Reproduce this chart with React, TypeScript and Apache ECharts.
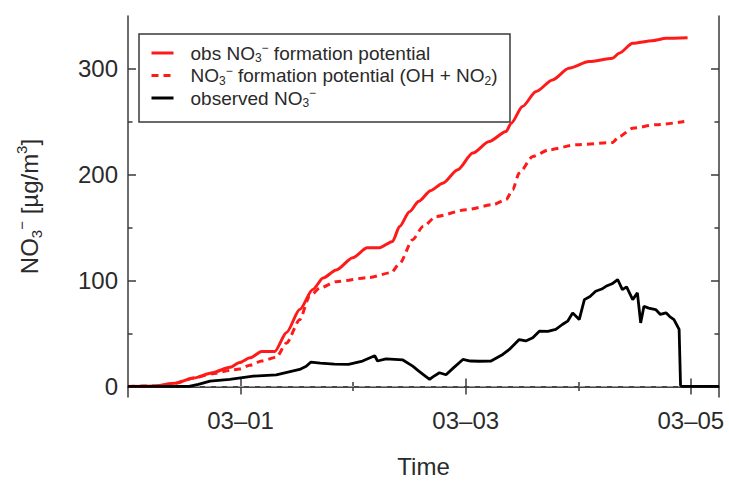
import React, { useEffect, useRef } from "react";
import * as echarts from "echarts";

// x axis: hours since 28 Feb 00:00
const START = Date.UTC(2013, 1, 28);
const HOUR = 3600 * 1000;
const X_MAX_HOURS = 126;
const MAJOR_DAYS = [1, 3, 5];
const MINOR_DAYS = [2, 4];
const Y_MAJOR = [0, 100, 200, 300];
const Y_MINOR = [50, 150, 250];

const SERIES_NAMES = [
  "obs NO3− formation potential",
  "NO3− formation potential (OH + NO2)",
  "observed NO3−",
];

const RED_OBS_HOURS = [0, 6, 10, 14, 18, 21.7, 23.8, 26, 28.5, 31.3, 33.8, 36.6, 39.4, 41.6, 44.4, 47.9, 51, 53.6, 56.4, 57.9, 60, 62, 64.5, 67.1, 70.3, 73.5, 77, 80.6, 81.7, 84.1, 87, 90.5, 94, 98.3, 103.3, 104.7, 107.6, 111.8, 114.7, 119.3];
const RED_OBS = [0, 0.5, 3, 8, 13, 18, 22.6, 27, 33, 33, 51, 72.6, 91.5, 102.5, 110, 121.5, 131, 131, 137, 151, 165, 175, 185, 192, 204.7, 220.5, 231.4, 240.9, 248.7, 264.5, 278.6, 289.6, 300.6, 306.9, 310, 314.8, 324.2, 326.7, 328.9, 329.5];

const RED_POT_HOURS = [0, 6, 10, 14, 18, 21.7, 23.8, 26, 28.5, 31.6, 33.8, 36.6, 38.7, 40.9, 44.4, 51.5, 56.1, 57.9, 60.7, 62.9, 65.7, 72.1, 77.8, 80.6, 82, 83.4, 86.3, 89.8, 95.5, 103.3, 104.7, 107.6, 112.5, 118.6];
const RED_POT = [0, 0.5, 3, 8, 12, 15, 16.5, 20, 24, 27.5, 41, 63, 85, 93, 99, 103, 107.5, 116, 138.7, 151, 160.6, 167, 171.7, 176.4, 185.8, 201.6, 217.3, 223.6, 228.3, 230.5, 236, 244, 247.2, 250.3];

const OBS_HOURS = [0, 13, 15, 17.5, 21.7, 26.7, 31.6, 36.6, 38, 39, 41, 44, 47, 50, 52.6, 53.2, 55, 58.6, 60.7, 62, 62.9, 64.3, 65, 66.4, 67.8, 69.5, 71.4, 73, 74.9, 77.4, 79.9, 81.3, 83.4, 84.8, 86.3, 87.7, 89.5, 91.2, 92.6, 93.8, 94.8, 96.2, 97.3, 98.5, 99.7, 101, 101.9, 103.2, 104.4, 105.4, 106.3, 107.6, 108.6, 109.3, 110, 111, 112.5, 113.5, 114.7, 115.5, 116.4, 117.5, 117.8, 118.2, 126];
const OBS = [0, 0, 2, 5, 6.6, 9.7, 11, 16, 19, 23, 22, 21, 20.8, 24, 29, 24, 26, 25, 19.2, 14.5, 11.3, 6.6, 9, 12.9, 11, 18, 25.5, 24, 23.8, 24, 30.2, 34.9, 44.3, 43, 45.9, 52.2, 52, 53.8, 58.5, 62, 69.5, 63.2, 82, 85, 89.9, 92, 94.6, 97, 101, 91.5, 94, 82, 88.4, 60, 75.7, 74, 72.6, 68, 69.5, 66, 63.2, 53.8, 1, 0, 0];

const FONT = "'Liberation Sans', Arial, Helvetica, sans-serif";
const TEXT_COLOR = "#2a2a2a";
const FRAME_COLOR = "#3a3a3a";
const RED = "#ff1a1a";

const toPairs = (hours: number[], vals: number[]) =>
  hours.map((h, i) => [START + h * HOUR, vals[i]]);
const dayTs = (d: number) => START + d * 24 * HOUR;
const pad = (n: number) => (n < 10 ? "0" + n : "" + n);

const LEGEND_LABELS: Record<string, string> = {
  [SERIES_NAMES[0]]: "{gap|}{t|obs NO}{sb|3}{sp|−}{t| formation potential}",
  [SERIES_NAMES[1]]: "{gap|}{t|NO}{sb|3}{sp|−}{t| formation potential (OH + NO}{sb|2}{t|)}",
  [SERIES_NAMES[2]]: "{gap|}{t|observed NO}{sb|3}{sp|−}",
};

export default function App() {
  const ref = useRef<HTMLDivElement>(null);
  useEffect(() => {
    document.body.style.margin = "0";
    if (!ref.current) return;
    const chart = echarts.init(ref.current, undefined, { renderer: "svg" });
    const grid = { left: 128, top: 16, width: 591, height: 381 };
    const xMin = START;
    const xMax = START + X_MAX_HOURS * HOUR;
    const lineCommon = { lineStyle: { color: FRAME_COLOR, width: 1.5 } };
    const tickStyle = { color: FRAME_COLOR, width: 1.5 };
    const xBase = (gridIndex: number, position: string) => ({
      type: "value",
      gridIndex,
      position,
      min: xMin,
      max: xMax,
      splitLine: { show: false },
    });
    const yBase = (gridIndex: number, position: string) => ({
      type: "value",
      gridIndex,
      position,
      min: -10,
      max: 350,
      splitLine: { show: false },
    });
    const majorX = MAJOR_DAYS.map(dayTs);
    const minorX = MINOR_DAYS.map(dayTs);
    chart.setOption({
      animation: false,
      backgroundColor: "#ffffff",
      textStyle: { fontFamily: FONT, color: TEXT_COLOR },
      grid: [grid, grid],
      xAxis: [
        {
          ...xBase(0, "bottom"),
          axisLine: { show: true, ...lineCommon },
          axisTick: { show: true, inside: true, length: 8, customValues: majorX, lineStyle: tickStyle },
          axisLabel: {
            show: true,
            customValues: majorX,
            margin: 11,
            fontSize: 24,
            color: TEXT_COLOR,
            fontFamily: FONT,
            formatter: (v: number) => {
              const d = new Date(v);
              return pad(d.getUTCMonth() + 1) + "–" + pad(d.getUTCDate());
            },
          },
          name: "Time",
          nameLocation: "middle",
          nameGap: 57,
          nameTextStyle: { fontSize: 24, color: TEXT_COLOR, fontFamily: FONT },
        },
        {
          ...xBase(0, "top"),
          axisLine: { show: true, ...lineCommon },
          axisTick: { show: true, inside: true, length: 8, customValues: majorX, lineStyle: tickStyle },
          axisLabel: { show: false },
        },
        {
          ...xBase(1, "bottom"),
          axisLine: { show: false },
          axisTick: { show: true, inside: true, length: 4.5, customValues: minorX, lineStyle: tickStyle },
          axisLabel: { show: false },
        },
        {
          ...xBase(1, "top"),
          axisLine: { show: false },
          axisTick: { show: true, inside: true, length: 4.5, customValues: minorX, lineStyle: tickStyle },
          axisLabel: { show: false },
        },
      ],
      yAxis: [
        {
          ...yBase(0, "left"),
          axisLine: { show: true, ...lineCommon },
          axisTick: { show: true, inside: true, length: 8, customValues: Y_MAJOR, lineStyle: tickStyle },
          axisLabel: { show: true, customValues: Y_MAJOR, margin: 10, fontSize: 24, color: TEXT_COLOR, fontFamily: FONT },
          name: "{t|NO}{sb|3}{sp|−}{t| [µg/m}{sp|3}{t|]}",
          nameLocation: "middle",
          nameGap: 84,
          nameRotate: 90,
          nameTextStyle: {
            fontFamily: FONT,
            color: TEXT_COLOR,
            fontSize: 24,
            rich: {
              t: { fontSize: 24, lineHeight: 30, fontFamily: FONT, color: TEXT_COLOR, verticalAlign: "middle" },
              sb: { fontSize: 15, lineHeight: 15, fontFamily: FONT, color: TEXT_COLOR, verticalAlign: "bottom" },
              sp: { fontSize: 15, lineHeight: 15, fontFamily: FONT, color: TEXT_COLOR, verticalAlign: "top" },
            },
          },
        },
        {
          ...yBase(0, "right"),
          axisLine: { show: true, ...lineCommon },
          axisTick: { show: true, inside: true, length: 8, customValues: Y_MAJOR, lineStyle: tickStyle },
          axisLabel: { show: false },
        },
        {
          ...yBase(1, "left"),
          axisLine: { show: false },
          axisTick: { show: true, inside: true, length: 4.5, customValues: Y_MINOR, lineStyle: tickStyle },
          axisLabel: { show: false },
        },
        {
          ...yBase(1, "right"),
          axisLine: { show: false },
          axisTick: { show: true, inside: true, length: 4.5, customValues: Y_MINOR, lineStyle: tickStyle },
          axisLabel: { show: false },
        },
      ],
      legend: {
        orient: "vertical",
        left: 139,
        top: 34,
        padding: [8, 0, 0, 11],
        itemWidth: 22,
        itemHeight: 12,
        itemGap: 0.5,
        data: SERIES_NAMES,
        lineStyle: { width: 3 },
        itemStyle: { color: "rgba(0,0,0,0)", borderWidth: 0, opacity: 0 },
        formatter: (name: string) => LEGEND_LABELS[name] || name,
        textStyle: {
          fontFamily: FONT,
          color: TEXT_COLOR,
          fontSize: 19,
          rich: {
            gap: { width: 12 },
            t: { fontSize: 19, lineHeight: 22, fontFamily: FONT, color: TEXT_COLOR, verticalAlign: "middle" },
            sb: { fontSize: 12, lineHeight: 12, fontFamily: FONT, color: TEXT_COLOR, verticalAlign: "bottom" },
            sp: { fontSize: 12, lineHeight: 12, fontFamily: FONT, color: TEXT_COLOR, verticalAlign: "top" },
          },
        },
      },
      graphic: [
        {
          type: "rect",
          shape: { x: 139, y: 34, width: 371, height: 88 },
          style: { fill: "rgba(0,0,0,0)", stroke: FRAME_COLOR, lineWidth: 1.5 },
          silent: true,
        },
      ],
      series: [
        {
          name: SERIES_NAMES[2],
          type: "line",
          xAxisIndex: 0,
          yAxisIndex: 0,
          data: toPairs(OBS_HOURS, OBS),
          symbol: "none",
          showSymbol: false,
          lineStyle: { color: "#000000", width: 2.8 },
          itemStyle: { color: "#000000" },
          z: 3,
          markLine: {
            silent: true,
            symbol: ["none", "none"],
            label: { show: false },
            lineStyle: { color: "#9a9a9a", type: [6, 5], width: 1 },
            data: [{ yAxis: 0 }],
            z: 1,
          },
        },
        {
          name: SERIES_NAMES[1],
          type: "line",
          xAxisIndex: 0,
          yAxisIndex: 0,
          data: toPairs(RED_POT_HOURS, RED_POT),
          symbol: "none",
          showSymbol: false,
          smooth: 0.25,
          smoothMonotone: "x",
          lineStyle: { color: RED, width: 3, type: [7, 5] },
          itemStyle: { color: RED },
          z: 2,
        },
        {
          name: SERIES_NAMES[0],
          type: "line",
          xAxisIndex: 0,
          yAxisIndex: 0,
          data: toPairs(RED_OBS_HOURS, RED_OBS),
          symbol: "none",
          showSymbol: false,
          smooth: 0.25,
          smoothMonotone: "x",
          lineStyle: { color: RED, width: 3 },
          itemStyle: { color: RED },
          z: 2,
        },
      ],
    });
    return () => chart.dispose();
  }, []);
  return (
    <div
      ref={ref}
      style={{ position: "fixed", left: 0, top: 0, width: 729, height: 483, background: "#fff" }}
    />
  );
}
